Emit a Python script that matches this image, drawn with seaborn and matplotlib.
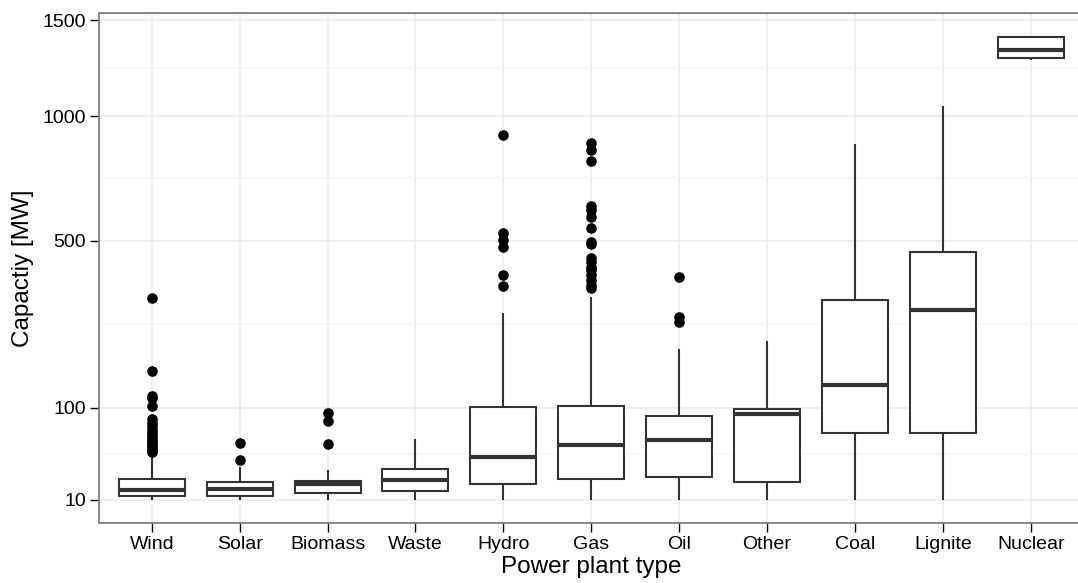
import numpy as np
import pandas as pd
import matplotlib
matplotlib.use("Agg")
import matplotlib.pyplot as plt
import seaborn as sns

# Power plant categories in display order
plant_types = ["Wind", "Solar", "Biomass", "Waste", "Hydro", "Gas", "Oil",
               "Other", "Coal", "Lignite", "Nuclear"]

# Installed capacity per plant [MW]
wind_mw = [10.0, 10.0, 10.2, 10.3, 10.5, 10.5, 10.6, 10.8, 10.9, 11.0,
           11.0, 11.2, 11.3, 11.4, 11.5, 11.5, 11.6, 11.7, 11.8, 11.9,
           12.0, 12.0, 12.2, 12.3, 12.5, 12.6, 12.8, 13.0, 13.0, 13.2,
           13.5, 13.6, 13.8, 14.0, 14.0, 14.3, 14.5, 14.6, 14.8, 15.0,
           15.2, 15.3, 15.6, 16.0, 16.0, 16.5, 16.8, 17.0, 17.5, 18.0,
           18.0, 18.4, 18.9, 19.2, 19.8, 20.0, 20.5, 21.0, 21.3, 21.6,
           22.1, 40.6, 45.0, 47.0, 49.0, 51.0, 53.0, 56.0, 58.0, 61.0,
           64.0, 67.0, 70.0, 74.0, 78.0, 84.0, 103.0, 114.0, 118.0, 162.0,
           328.0]
solar_mw = [10.0, 10.6, 11.3, 12.1, 13.0, 14.5, 15.8, 17.0, 18.5, 20.0,
            31.7, 37.0, 54.0]
biomass_mw = [10.0, 10.8, 11.5, 12.4, 13.2, 14.5, 16.0, 17.6, 18.9, 19.3,
              19.8, 20.2, 20.7, 28.5, 53.2, 81.0, 92.0]
waste_mw = [10.0, 11.5, 13.0, 14.7, 17.0, 19.5, 21.4, 24.0, 27.0, 29.6,
            38.0, 47.0, 59.4]
hydro_mw = [10.0, 11.0, 12.5, 13.6, 15.0, 16.2, 17.5, 18.7, 20.5, 23.0,
            26.0, 29.0, 33.0, 36.5, 39.7, 45.0, 52.0, 60.0, 68.0, 78.0,
            90.0, 100.7, 290.6, 362.0, 393.0, 481.0, 503.0, 526.0, 912.0]
gas_mw = [10.0, 10.5, 11.0, 11.5, 12.0, 12.5, 13.0, 13.6, 14.2, 14.8,
          15.5, 16.2, 17.0, 17.8, 18.6, 19.5, 20.4, 21.3, 22.3, 23.5,
          25.0, 26.5, 28.0, 29.5, 31.0, 32.5, 34.0, 35.5, 37.0, 39.0,
          41.0, 43.0, 45.0, 47.0, 49.0, 51.0, 52.4, 55.0, 58.0, 61.0,
          64.0, 67.0, 70.0, 73.0, 76.0, 79.0, 82.0, 85.0, 88.0, 91.0,
          94.0, 97.0, 99.0, 101.0, 103.0, 330.0, 356.0, 365.0, 379.0, 394.0,
          408.0, 418.0, 434.0, 446.0, 490.0, 498.0, 545.0, 584.0, 608.0, 622.0,
          800.0, 847.0, 879.0]
oil_mw = [10.0, 13.0, 17.0, 20.0, 23.2, 30.0, 40.0, 50.0, 57.9, 65.0,
          72.0, 80.0, 88.2, 205.5, 268.0, 280.0, 387.0]
other_mw = [10.0, 13.0, 17.0, 20.4, 35.0, 60.0, 91.4, 93.0, 95.0, 97.7,
            130.0, 170.0, 224.0]
coal_mw = [10.0, 30.0, 50.0, 66.1, 90.0, 115.0, 136.6, 180.0, 250.0, 324.4,
           450.0, 650.0, 874.0]
lignite_mw = [10.0, 25.0, 45.0, 66.1, 120.0, 200.0, 296.0, 350.0, 410.0, 465.0,
              600.0, 850.0, 1048.0]
nuclear_mw = [1279.0, 1284.0, 1288.0, 1310.0, 1333.0, 1370.0, 1404.0, 1408.0, 1411.0]

y_breaks = [10, 100, 500, 1000, 1500]

capacities = [wind_mw, solar_mw, biomass_mw, waste_mw, hydro_mw, gas_mw,
              oil_mw, other_mw, coal_mw, lignite_mw, nuclear_mw]

sns.set_theme(style="white")
plt.rcParams["font.family"] = ["Liberation Sans", "DejaVu Sans"]

df = pd.DataFrame({
    "type": np.repeat(plant_types, [len(v) for v in capacities]),
    "capacity": np.concatenate(capacities),
})
# square-root scale on the capacity axis (stats computed on the scaled values)
df["sqrt_capacity"] = np.sqrt(df["capacity"])

W, H = 1078, 583
fig = plt.figure(figsize=(W / 100, H / 100), dpi=100)
fig.patch.set_facecolor("white")
# panel runs slightly past the right edge of the canvas
ax = fig.add_axes([99 / W, 60 / H, 984.5 / W, 510.3 / H])

sns.boxplot(
    data=df, x="type", y="sqrt_capacity", order=plant_types, ax=ax,
    color="white", linecolor="#333333", saturation=1, width=0.75,
    linewidth=1.5, showcaps=False, fliersize=6.6,
    flierprops=dict(marker="o", markerfacecolor="black",
                    markeredgecolor="black"),
    medianprops=dict(linewidth=3.0, color="#333333"),
)

s_lo, s_hi = df["sqrt_capacity"].min(), df["sqrt_capacity"].max()
pad = 0.05 * (s_hi - s_lo)
ax.set_ylim(s_lo - pad, s_hi + pad)
ax.set_xlim(-0.6, len(plant_types) - 0.4)

major = np.sqrt(y_breaks)
ax.set_yticks(major)
ax.set_yticklabels([str(b) for b in y_breaks])
ax.set_yticks((major[:-1] + major[1:]) / 2, minor=True)

ax.set_axisbelow(True)
ax.grid(True, which="major", axis="both", color="#ebebeb", linewidth=1.1)
ax.grid(True, which="minor", axis="y", color="#f6f6f6", linewidth=1.1)

for sp in ax.spines.values():
    sp.set_color("#7f7f7f")
    sp.set_linewidth(1.3)
ax.spines["right"].set_visible(False)

ax.tick_params(axis="both", which="major", direction="out", length=6.2,
               width=1.0, color="black", labelsize=14, labelcolor="black",
               pad=3, bottom=True, left=True)
ax.tick_params(axis="y", which="minor", length=0)

ax.set_xlabel("Power plant type", fontsize=17.5, labelpad=2.5, color="black")
ax.set_ylabel("Capactiy [MW]", fontsize=17.5, labelpad=6, color="black")

fig.savefig("out.png", dpi=100, facecolor="white")
